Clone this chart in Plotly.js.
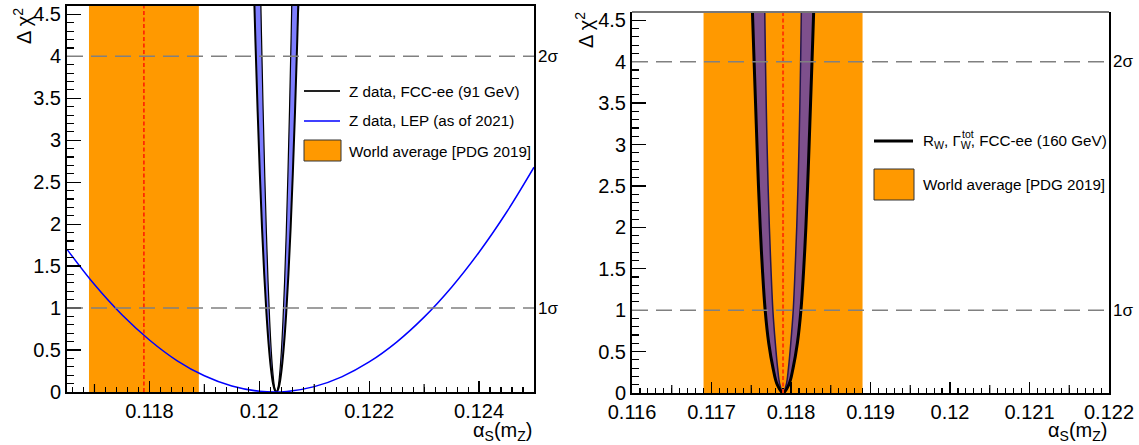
<!DOCTYPE html>
<html>
<head>
<meta charset="utf-8">
<script src="https://cdn.plot.ly/plotly-3.0.1.min.js"></script>
<style>html,body{margin:0;padding:0;background:#fff;}#chart{width:1139px;height:445px;}</style>
</head>
<body>
<div id="chart"></div>
<script>
// ---------- data ----------
// World average alpha_s (PDG 2019)
const worldAvg = 0.1179;
const worldErr = 0.0010;

// sigma levels (delta chi2) and labels
const sigmaLevels = [1, 4];
const sigmaLabels = ['1σ', '2σ'];

// Left panel: Z data, LEP (as of 2021)
const lepAlpha = [0.1165, 0.1170, 0.1175, 0.1180, 0.1185, 0.1190, 0.1195, 0.1200, 0.1205, 0.1210, 0.1215, 0.1220, 0.1225, 0.1230, 0.1235, 0.1240, 0.1245, 0.1250];
const lepChi2  = [1.70, 1.28, 0.92, 0.62, 0.375, 0.193, 0.071, 0.009, 0.006, 0.064, 0.181, 0.358, 0.595, 0.892, 1.249, 1.666, 2.142, 2.679];

// Left panel: Z data, FCC-ee (91 GeV) - outer and inner edges of the band
const fccZOuterAlpha = [0.11989, 0.11993, 0.11997, 0.12001, 0.12005, 0.12009, 0.12013, 0.12017, 0.12021, 0.12025, 0.12028, 0.12031, 0.12034, 0.12037, 0.12041, 0.12045, 0.12049, 0.12053, 0.12057, 0.12061, 0.12065, 0.12069, 0.12073];
const fccZOuterChi2  = [5.10, 4.17, 3.34, 2.60, 1.95, 1.40, 0.94, 0.57, 0.29, 0.10, 0.026, 0, 0.026, 0.10, 0.29, 0.57, 0.94, 1.40, 1.95, 2.60, 3.34, 4.17, 5.10];
const fccZInnerAlpha = [0.12001, 0.12004, 0.12007, 0.12010, 0.12013, 0.12016, 0.12019, 0.12022, 0.12025, 0.12028, 0.12031, 0.12034, 0.12037, 0.12040, 0.12043, 0.12046, 0.12049, 0.12052, 0.12055, 0.12058, 0.12061];
const fccZInnerChi2  = [5.24, 4.25, 3.36, 2.57, 1.89, 1.31, 0.84, 0.47, 0.21, 0.052, 0, 0.052, 0.21, 0.47, 0.84, 1.31, 1.89, 2.57, 3.36, 4.25, 5.24];

// Right panel: R_W, Gamma_W^tot, FCC-ee (160 GeV)
const fccWOuterAlpha = [0.117502, 0.117515, 0.117536, 0.117554, 0.117572, 0.117591, 0.117613, 0.117640, 0.117675, 0.117720, 0.117774, 0.117827, 0.117900, 0.117973, 0.118026, 0.118080, 0.118125, 0.118160, 0.118187, 0.118209, 0.118228, 0.118246, 0.118264, 0.118285, 0.118298];
const fccWOuterChi2  = [5.0, 4.6, 4.0, 3.5, 3.0, 2.5, 2.0, 1.5, 1.0, 0.6, 0.3, 0.1, 0, 0.1, 0.3, 0.6, 1.0, 1.5, 2.0, 2.5, 3.0, 3.5, 4.0, 4.6, 5.0];
const fccWInnerAlpha = [0.117664, 0.117670, 0.117679, 0.117688, 0.117699, 0.117712, 0.117728, 0.117748, 0.117772, 0.117803, 0.117832, 0.117860, 0.117900, 0.117940, 0.117968, 0.117997, 0.118028, 0.118052, 0.118072, 0.118088, 0.118101, 0.118112, 0.118121, 0.118130, 0.118136];
const fccWInnerChi2  = [5.0, 4.6, 4.0, 3.5, 3.0, 2.5, 2.0, 1.5, 1.0, 0.6, 0.3, 0.1, 0, 0.1, 0.3, 0.6, 1.0, 1.5, 2.0, 2.5, 3.0, 3.5, 4.0, 4.6, 5.0];

// tick labels
const leftXTicks  = [0.118, 0.120, 0.122, 0.124];
const leftXLabels = ['0.118', '0.12', '0.122', '0.124'];
const leftXMidTicks = [0.117, 0.119, 0.121, 0.123];
const rightXTicks  = [0.116, 0.117, 0.118, 0.119, 0.120, 0.121, 0.122];
const rightXLabels = ['0.116', '0.117', '0.118', '0.119', '0.12', '0.121', '0.122'];
const rightXMidTicks = [0.1165, 0.1175, 0.1185, 0.1195, 0.1205, 0.1215];
const yTicks  = [0, 0.5, 1, 1.5, 2, 2.5, 3, 3.5, 4, 4.5];
const yLabels = ['0', '0.5', '1', '1.5', '2', '2.5', '3', '3.5', '4', '4.5'];

// legend texts
const leftLegend  = ['Z data, FCC-ee (91 GeV)', 'Z data, LEP (as of 2021)', 'World average [PDG 2019]'];
const rightLegend = ['R<sub>W</sub>, Γ<sub>W</sub>, FCC-ee (160 GeV)', 'World average [PDG 2019]'];
const rightLegendSup = 'tot';

// ---------- drawing ----------
const W = 1139, H = 445;
const px = x => x / W;
const py = y => 1 - y / H;
const FONT = 'Liberation Sans, Arial, Helvetica, sans-serif';
const ORANGE = '#ff9900';
const BAND = 'rgba(20,20,255,0.55)';
const LEGSIZE = 15.2;

function bandPoly(ox, oy, ix, iy) {
  return { x: ox.concat(ix.slice().reverse()), y: oy.concat(iy.slice().reverse()) };
}
const bz = bandPoly(fccZOuterAlpha, fccZOuterChi2, fccZInnerAlpha, fccZInnerChi2);
const bw = bandPoly(fccWOuterAlpha, fccWOuterChi2, fccWInnerAlpha, fccWInnerChi2);

const traces = [
  // left panel
  { x: bz.x, y: bz.y, xaxis: 'x', yaxis: 'y', type: 'scatter', mode: 'lines', fill: 'toself',
    fillcolor: BAND, line: { width: 0, shape: 'spline' }, hoverinfo: 'skip', showlegend: false },
  { x: fccZInnerAlpha, y: fccZInnerChi2, xaxis: 'x', yaxis: 'y', type: 'scatter', mode: 'lines',
    line: { color: '#000', width: 1.2, shape: 'spline' }, showlegend: false },
  { x: fccZOuterAlpha, y: fccZOuterChi2, xaxis: 'x', yaxis: 'y', type: 'scatter', mode: 'lines',
    line: { color: '#000', width: 2, shape: 'spline' }, showlegend: false },
  { x: lepAlpha, y: lepChi2, xaxis: 'x', yaxis: 'y', type: 'scatter', mode: 'lines',
    line: { color: '#0000ff', width: 1.5, shape: 'spline' }, showlegend: false },
  // right panel
  { x: bw.x, y: bw.y, xaxis: 'x2', yaxis: 'y2', type: 'scatter', mode: 'lines', fill: 'toself',
    fillcolor: BAND, line: { width: 0, shape: 'spline' }, hoverinfo: 'skip', showlegend: false },
  { x: fccWInnerAlpha, y: fccWInnerChi2, xaxis: 'x2', yaxis: 'y2', type: 'scatter', mode: 'lines',
    line: { color: '#24164f', width: 1.5, shape: 'spline' }, showlegend: false },
  { x: fccWOuterAlpha, y: fccWOuterChi2, xaxis: 'x2', yaxis: 'y2', type: 'scatter', mode: 'lines',
    line: { color: '#000', width: 3, shape: 'spline' }, showlegend: false }
];

const shapes = [];
const annotations = [];
[['x', 'y', 'rgb(255,0,0)', 1.3], ['x2', 'y2', 'rgb(255,60,0)', 2]].forEach(([xa, ya, rc, rw]) => {
  shapes.push({ type: 'rect', xref: xa, yref: ya + ' domain', x0: worldAvg - worldErr, x1: worldAvg + worldErr,
    y0: 0, y1: 1, fillcolor: ORANGE, line: { width: 0 }, layer: 'below' });
  shapes.push({ type: 'line', xref: xa, yref: ya + ' domain', x0: worldAvg, x1: worldAvg, y0: 0, y1: 1,
    line: { color: rc, width: rw, dash: '4px,2.5px' }, layer: 'above' });
  sigmaLevels.forEach((lv, i) => {
    shapes.push({ type: 'line', xref: xa + ' domain', yref: ya, x0: 0, x1: 1, y0: lv, y1: lv,
      line: { color: '#808080', width: 1.5, dash: '16px,8px' }, layer: 'above' });
    annotations.push({ xref: xa + ' domain', yref: ya, x: 1, y: lv, xshift: 2, xanchor: 'left', yanchor: 'middle',
      text: sigmaLabels[i], showarrow: false, font: { family: FONT, size: 17, color: '#000' } });
  });
});
// secondary (medium) x ticks
[['x', 'y', leftXMidTicks, 8 / 386], ['x2', 'y2', rightXMidTicks, 8 / 381]].forEach(([xa, ya, vals, len]) => {
  vals.forEach(v => shapes.push({ type: 'line', xref: xa, yref: ya + ' domain', x0: v, x1: v, y0: 0, y1: len,
    line: { color: '#000', width: 1.2 }, layer: 'above' }));
});
// right panel top frame (grey)
shapes.push({ type: 'line', xref: 'x2 domain', yref: 'y2 domain', x0: 0, x1: 1, y0: 1, y1: 1,
  line: { color: '#777', width: 2 }, layer: 'above' });

// left legend
shapes.push({ type: 'line', xref: 'paper', yref: 'paper', x0: px(304), x1: px(340), y0: py(91), y1: py(91), line: { color: '#222', width: 2 } });
shapes.push({ type: 'line', xref: 'paper', yref: 'paper', x0: px(304), x1: px(340), y0: py(121), y1: py(121), line: { color: '#0000ff', width: 1.5 } });
shapes.push({ type: 'rect', xref: 'paper', yref: 'paper', x0: px(304), x1: px(341), y0: py(161), y1: py(140), fillcolor: ORANGE, line: { color: '#333', width: 1 } });
[91, 121, 151].forEach((yy, i) => annotations.push({ xref: 'paper', yref: 'paper', x: px(347), y: py(yy), xanchor: 'left', yanchor: 'middle',
  text: leftLegend[i], showarrow: false, font: { family: FONT, size: LEGSIZE, color: '#000' } }));
// right legend
shapes.push({ type: 'line', xref: 'paper', yref: 'paper', x0: px(874), x1: px(913), y0: py(141), y1: py(141), line: { color: '#000', width: 3 } });
shapes.push({ type: 'rect', xref: 'paper', yref: 'paper', x0: px(874), x1: px(914), y0: py(200), y1: py(169), fillcolor: ORANGE, line: { color: '#333', width: 1 } });
[141, 184].forEach((yy, i) => annotations.push({ xref: 'paper', yref: 'paper', x: px(921), y: py(yy), xanchor: 'left', yanchor: 'middle',
  text: rightLegend[i], showarrow: false, font: { family: FONT, size: LEGSIZE, color: '#000' } }));
annotations.push({ xref: 'paper', yref: 'paper', x: px(960), y: py(134), xanchor: 'left', yanchor: 'middle',
  text: rightLegendSup, showarrow: false, font: { family: FONT, size: 10.5, color: '#000' } });

// axis titles
[[22, 26], [585, 30]].forEach(([xx, yy]) => annotations.push({ xref: 'paper', yref: 'paper', x: px(xx), y: py(yy), xanchor: 'center', yanchor: 'middle',
  textangle: -90, text: 'Δ χ<sup>2</sup>', showarrow: false, font: { family: FONT, size: 20, color: '#000' } }));
[[534, 431], [1109, 431]].forEach(([xx, yy]) => annotations.push({ xref: 'paper', yref: 'paper', x: px(xx), y: py(yy), xanchor: 'right', yanchor: 'middle',
  text: 'α<sub>S</sub>(m<sub>Z</sub>)', showarrow: false, font: { family: FONT, size: 20, color: '#000' } }));

const tickFont = { family: FONT, size: 20, color: '#000' };
function xAxis(domain, range, tv, tt, minorD, anchor, mirror) {
  return { domain, range, anchor, tickmode: 'array', tickvals: tv, ticktext: tt, ticks: 'inside', ticklen: 11, tickwidth: 1.3,
    tickcolor: '#000', showgrid: false, zeroline: false, showline: true, linecolor: '#000', linewidth: 2, mirror,
    tickfont: tickFont, minor: { tickmode: 'linear', tick0: 0, dtick: minorD, ticks: 'inside', ticklen: 5.5, tickwidth: 1.1, tickcolor: '#000', showgrid: false },
    fixedrange: true };
}
function yAxis(domain, anchor) {
  return { domain, range: [0, 4.6], anchor, tickmode: 'array', tickvals: yTicks, ticktext: yLabels, ticks: 'inside', ticklen: 14, tickwidth: 1.3,
    tickcolor: '#000', showgrid: false, zeroline: false, showline: true, linecolor: '#000', linewidth: 2, mirror: true,
    tickfont: tickFont, minor: { tickmode: 'linear', tick0: 0, dtick: 0.1, ticks: 'inside', ticklen: 7, tickwidth: 1.1, tickcolor: '#000', showgrid: false },
    fixedrange: true };
}

const layout = {
  width: W, height: H, margin: { l: 0, r: 0, t: 0, b: 0 },
  paper_bgcolor: '#fff', plot_bgcolor: 'rgba(0,0,0,0)', showlegend: false,
  xaxis: xAxis([px(67), px(534)], [0.1165, 0.125], leftXTicks, leftXLabels, 0.0002, 'y', true),
  yaxis: yAxis([py(392), py(6)], 'x'),
  xaxis2: xAxis([px(632), px(1109)], [0.116, 0.122], rightXTicks, rightXLabels, 0.0001, 'y2', false),
  yaxis2: yAxis([py(393), py(12)], 'x2'),
  shapes, annotations
};

Plotly.newPlot('chart', traces, layout, { staticPlot: true, displayModeBar: false });
</script>
</body>
</html>
